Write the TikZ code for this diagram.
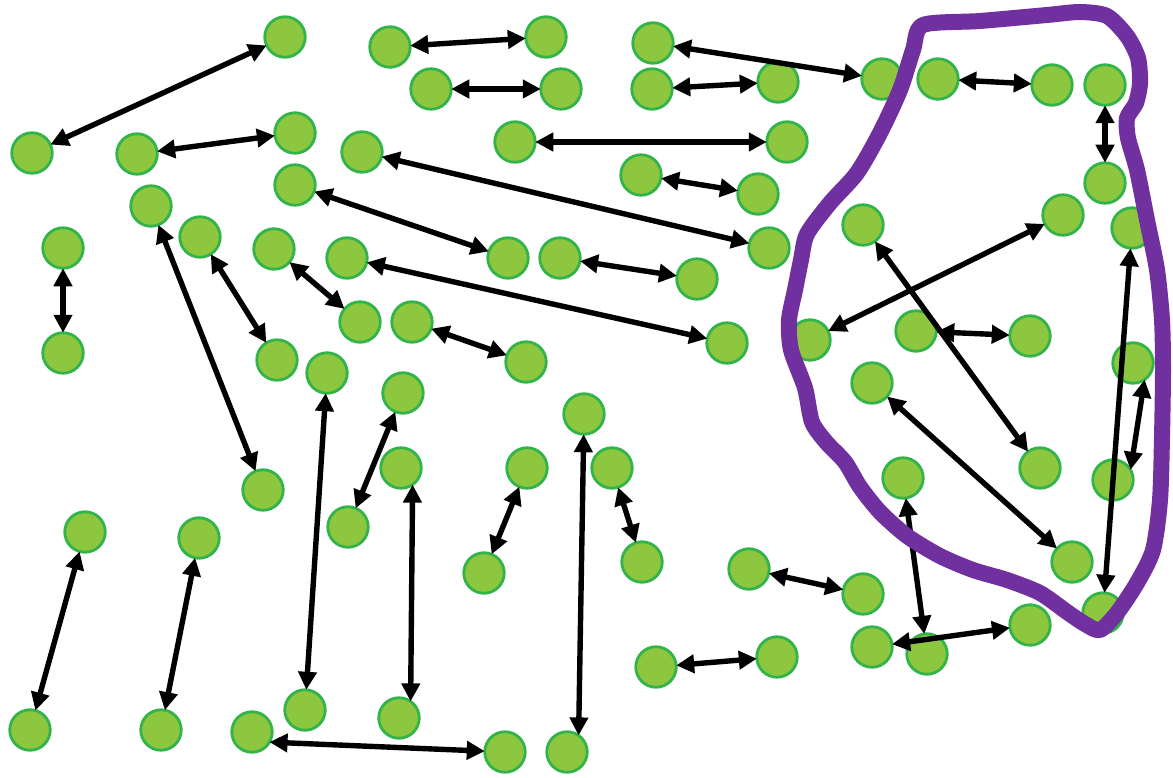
\documentclass[tikz,border=0pt]{standalone}
\usetikzlibrary{arrows.meta}
\definecolor{dotfill}{RGB}{141,198,63}
\definecolor{dotline}{RGB}{50,180,75}
\definecolor{lasso}{RGB}{112,48,160}
\tikzset{
  dot/.style={circle, fill=dotfill, draw=dotline, line width=2.8pt, minimum size=40.5pt, inner sep=0pt, outer sep=0pt},
  arr/.style={line width=5.4pt, black, {Triangle[length=18pt,width=18pt]}-{Triangle[length=18pt,width=18pt]}},
  lassoline/.style={line width=16pt, lasso, line join=round, line cap=round}
}
\begin{document}
\begin{tikzpicture}[x=1pt,y=-1pt]
\useasboundingbox[fill=white] (0,0) rectangle (1173,778);
% nodes
\node[dot] (n1) at (285,37) {};
\node[dot] (n2) at (32,153) {};
\node[dot] (n3) at (137,154) {};
\node[dot] (n4) at (295,133) {};
\node[dot] (n5) at (390,47) {};
\node[dot] (n6) at (546,37) {};
\node[dot] (n7) at (431,89) {};
\node[dot] (n8) at (561,89) {};
\node[dot] (n9) at (653,43) {};
\node[dot] (n10) at (652,89) {};
\node[dot] (n11) at (778,82) {};
\node[dot] (n12) at (882,79) {};
\node[dot] (n13) at (938,79) {};
\node[dot] (n14) at (1052,85) {};
\node[dot] (n15) at (1105,85) {};
\node[dot] (n16) at (1105,183) {};
\node[dot] (n17) at (515,142) {};
\node[dot] (n18) at (787,142) {};
\node[dot] (n19) at (641,175) {};
\node[dot] (n20) at (758,194) {};
\node[dot] (n21) at (362,152) {};
\node[dot] (n22) at (769,248) {};
\node[dot] (n23) at (295,185) {};
\node[dot] (n24) at (508,258) {};
\node[dot] (n25) at (560,258) {};
\node[dot] (n26) at (697,279) {};
\node[dot] (n27) at (347,258) {};
\node[dot] (n28) at (727,343) {};
\node[dot] (n29) at (63,248) {};
\node[dot] (n30) at (63,353) {};
\node[dot] (n31) at (151,206) {};
\node[dot] (n32) at (263,490) {};
\node[dot] (n33) at (200,237) {};
\node[dot] (n34) at (277,360) {};
\node[dot] (n35) at (274,249) {};
\node[dot] (n36) at (360,322) {};
\node[dot] (n37) at (412,322) {};
\node[dot] (n38) at (526,362) {};
\node[dot] (n39) at (327,373) {};
\node[dot] (n40) at (305,710) {};
\node[dot] (n41) at (403,393) {};
\node[dot] (n42) at (348,527) {};
\node[dot] (n43) at (401,468) {};
\node[dot] (n44) at (399,718) {};
\node[dot] (n45) at (527,468) {};
\node[dot] (n46) at (484,573) {};
\node[dot] (n47) at (584,414) {};
\node[dot] (n48) at (567,752) {};
\node[dot] (n49) at (612,468) {};
\node[dot] (n50) at (642,562) {};
\node[dot] (n51) at (85,532) {};
\node[dot] (n52) at (30,730) {};
\node[dot] (n53) at (199,538) {};
\node[dot] (n54) at (161,730) {};
\node[dot] (n55) at (252,732) {};
\node[dot] (n56) at (505,752) {};
\node[dot] (n57) at (749,569) {};
\node[dot] (n58) at (863,594) {};
\node[dot] (n59) at (656,667) {};
\node[dot] (n60) at (777,657) {};
\node[dot] (n61) at (872,647) {};
\node[dot] (n62) at (1030,625) {};
\node[dot] (n63) at (903,478) {};
\node[dot] (n64) at (927,654) {};
\node[dot] (n65) at (1063,215) {};
\node[dot] (n66) at (810,340) {};
\node[dot] (n67) at (863,225) {};
\node[dot] (n68) at (1040,468) {};
\node[dot] (n69) at (916,331) {};
\node[dot] (n70) at (1030,336) {};
\node[dot] (n71) at (872,383) {};
\node[dot] (n72) at (1072,562) {};
\node[dot] (n73) at (1132,228) {};
\node[dot] (n74) at (1103,613) {};
\node[dot] (n75) at (1113,480) {};
\node[dot] (n76) at (1133,363) {};
% connectors
\draw[arr] (n1) -- (n2);
\draw[arr] (n3) -- (n4);
\draw[arr] (n5) -- (n6);
\draw[arr] (n7) -- (n8);
\draw[arr] (n9) -- (n12);
\draw[arr] (n10) -- (n11);
\draw[arr] (n13) -- (n14);
\draw[arr] (n15) -- (n16);
\draw[arr] (n17) -- (n18);
\draw[arr] (n19) -- (n20);
\draw[arr] (n21) -- (n22);
\draw[arr] (n23) -- (n24);
\draw[arr] (n25) -- (n26);
\draw[arr] (n27) -- (n28);
\draw[arr] (n29) -- (n30);
\draw[arr] (n31) -- (n32);
\draw[arr] (n33) -- (n34);
\draw[arr] (n35) -- (n36);
\draw[arr] (n37) -- (n38);
\draw[arr] (n39) -- (n40);
\draw[arr] (n41) -- (n42);
\draw[arr] (n43.-55) -- (n44.55);
\draw[arr] (n45) -- (n46);
\draw[arr] (n47) -- (n48.55);
\draw[arr] (n49) -- (n50);
\draw[arr] (n51) -- (n52);
\draw[arr] (n53) -- (n54);
\draw[arr] (n55.-30) -- (n56);
\draw[arr] (n57) -- (n58);
\draw[arr] (n59) -- (n60);
\draw[arr] (n61) -- (n62);
\draw[arr] (n63) -- (n64);
\draw[arr] (n65) -- (n66);
\draw[arr] (n67) -- (n68);
\draw[arr] (n69) -- (n70);
\draw[arr] (n71) -- (n72);
\draw[arr] (n73) -- (n74);
\draw[arr] (n75.30) -- (n76.-55);
% purple outline
\draw[lassoline] plot[smooth cycle, tension=0.45] coordinates {
 (923,25) (980,21) (1047,15) (1080,12) (1107,16) (1127,36) (1138,58) (1140,83)
 (1136,103) (1127,118) (1128,138) (1137,170) (1147,220) (1157,270) (1162,320)
 (1163,370) (1162,437) (1160,500) (1153,550) (1137,583) (1117,613) (1100,630)
 (1085,624) (1067,612) (1040,593) (1007,580) (973,570) (940,556) (907,536)
 (880,512) (860,487) (845,462) (826,442) (812,422) (805,388) (791,350) (789,320)
 (795,290) (801,260) (807,234) (830,203) (857,173) (880,133) (900,90) (913,50)
};
\end{tikzpicture}
\end{document}
